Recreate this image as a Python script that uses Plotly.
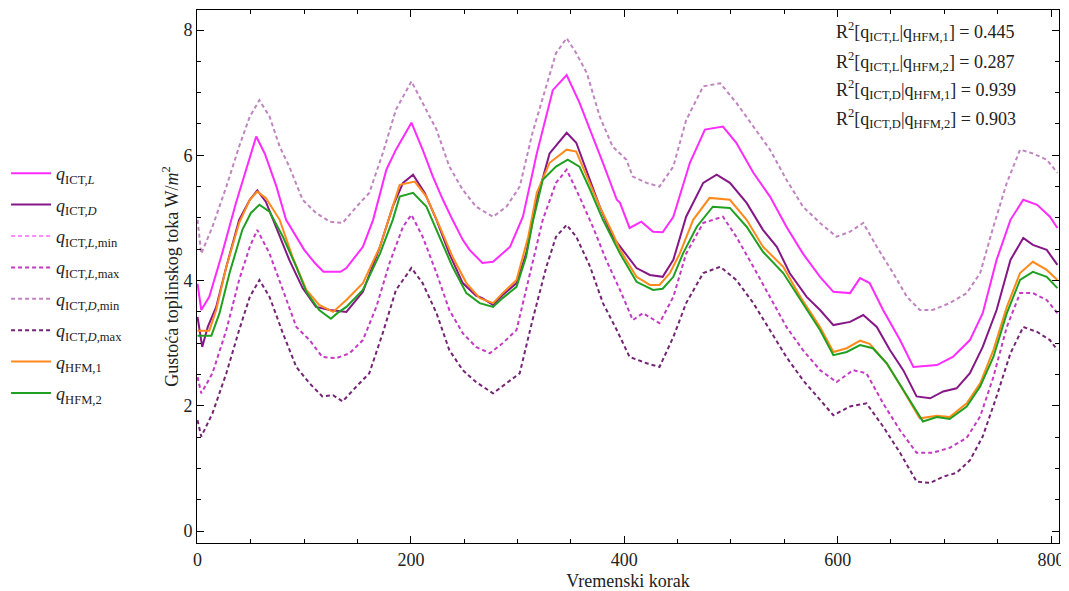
import plotly.graph_objects as go

# ---- data ----
ict_L_x = [0, 3.5, 11, 23, 36, 44, 55, 63, 74, 83, 93, 100, 110, 118, 134, 139.5, 155, 164.6, 177, 186,
           200.5, 211, 220.6, 230, 239, 248.6, 255, 261, 267, 277, 293, 305, 318, 333, 346, 358, 368, 380,
           393, 396, 405, 416, 427, 436, 446, 461.5, 475.6, 492.5, 505, 521, 536.6, 552, 567.5, 583.5, 596,
           611.6, 621, 630, 642.6, 658.5, 671, 693, 708, 724, 736, 749, 762, 774, 787, 799, 806]
ict_L_y = [3.95, 3.53, 3.74, 4.43, 5.24, 5.69, 6.30, 6.03, 5.50, 4.97, 4.70, 4.49, 4.28, 4.14, 4.14, 4.20,
           4.54, 4.97, 5.77, 6.09, 6.52, 6.09, 5.66, 5.29, 4.97, 4.65, 4.49, 4.38, 4.28, 4.30, 4.54, 5.02,
           6.03, 7.04, 7.28, 6.84, 6.41, 5.88, 5.29, 5.24, 4.84, 4.94, 4.78, 4.77, 5.02, 5.88, 6.41, 6.46,
           6.20, 5.72, 5.34, 4.86, 4.43, 4.06, 3.82, 3.80, 4.04, 3.96, 3.53, 3.05, 2.62, 2.65, 2.78, 3.05,
           3.48, 4.33, 4.97, 5.29, 5.21, 5.02, 4.84]

ict_D_x = [0, 4.4, 9.6, 17.5, 27, 39, 49, 56, 64, 75, 86, 98.5, 111, 124, 139.5, 155, 171, 183, 192.6, 202,
           213, 224, 236, 248.6, 261, 267, 277, 286, 299, 308, 318, 330, 346, 355, 365, 377, 389, 396, 411.5,
           424, 436, 446, 458, 474, 486.6, 499, 514.7, 530, 543, 555, 571, 583.5, 596, 611.6, 624, 636.7, 649,
           661.5, 674, 686.7, 699, 711.5, 724, 736, 749, 762, 774, 783, 796, 806]
ict_D_y = [3.42, 2.94, 3.26, 3.58, 4.22, 4.97, 5.29, 5.44, 5.26, 4.81, 4.33, 3.88, 3.58, 3.53, 3.50, 3.82,
           4.54, 5.18, 5.56, 5.69, 5.40, 4.97, 4.43, 3.96, 3.76, 3.72, 3.61, 3.77, 3.96, 4.43, 5.29, 6.03,
           6.36, 6.20, 5.72, 5.18, 4.70, 4.54, 4.20, 4.09, 4.06, 4.33, 5.02, 5.56, 5.69, 5.56, 5.24, 4.81,
           4.54, 4.12, 3.74, 3.53, 3.29, 3.34, 3.45, 3.26, 2.89, 2.57, 2.15, 2.12, 2.23, 2.28, 2.52, 2.94,
           3.53, 4.33, 4.68, 4.57, 4.49, 4.25]

upper_dash_x = [0, 3.5, 14, 27, 39, 49, 58, 67.5, 77, 86, 98.5, 111, 124, 136, 149, 161, 173.6, 186, 200.5,
                211, 224, 236, 248.6, 261, 277, 289.6, 302, 314, 327, 336, 346, 355, 365, 377, 389, 396, 402,
                408, 421, 433, 446, 458, 474, 490, 505, 521, 536.6, 552, 567.5, 583.5, 599, 611.6, 624, 636.7,
                652, 665, 677, 689, 705, 721, 733.6, 746, 758.6, 771, 783, 796, 806]
upper_dash_y = [4.97, 4.43, 4.86, 5.50, 6.14, 6.62, 6.88, 6.62, 6.14, 5.82, 5.29, 5.08, 4.94, 4.92, 5.18,
                5.40, 6.03, 6.73, 7.18, 6.84, 6.41, 5.82, 5.45, 5.18, 5.02, 5.18, 5.50, 6.36, 7.10, 7.63,
                7.87, 7.63, 7.31, 6.62, 6.14, 6.03, 5.93, 5.66, 5.56, 5.50, 5.82, 6.56, 7.10, 7.15, 6.84,
                6.46, 6.09, 5.61, 5.18, 4.92, 4.70, 4.78, 4.92, 4.54, 4.12, 3.74, 3.53, 3.53, 3.64, 3.80,
                4.12, 4.86, 5.56, 6.09, 6.03, 5.93, 5.72]

mid_dash_x = [0, 3.5, 14, 27, 39, 49, 56, 67.5, 80, 92.6, 105, 117, 130, 142.6, 155, 167.6, 180, 192.6, 200.5,
              211, 224, 236, 248.6, 261, 274, 286, 299, 311, 323.6, 336, 346, 358, 370.5, 383, 396, 408, 417.5,
              433, 446, 458, 474, 492.5, 505, 521, 536.6, 552, 567.5, 583.5, 599, 614.5, 627, 642.6, 658.5,
              674, 689, 705, 721, 733.6, 746, 758.6, 771, 783, 796, 806]
mid_dash_y = [2.46, 2.20, 2.52, 3.21, 4.01, 4.54, 4.81, 4.43, 3.85, 3.26, 3.05, 2.78, 2.76, 2.84, 3.05, 3.58,
              4.28, 4.86, 5.05, 4.70, 4.12, 3.53, 3.16, 2.94, 2.84, 3.00, 3.21, 4.06, 4.97, 5.56, 5.77, 5.34,
              4.86, 4.33, 3.85, 3.37, 3.48, 3.32, 3.74, 4.43, 4.92, 5.02, 4.70, 4.22, 3.74, 3.26, 2.89, 2.57,
              2.38, 2.57, 2.52, 2.04, 1.61, 1.25, 1.25, 1.33, 1.49, 1.83, 2.46, 3.26, 3.80, 3.80, 3.69, 3.48]

low_dash_x = [0, 3.5, 14, 27, 39, 49, 58, 67.5, 80, 92.6, 105, 117, 127, 136, 149, 161, 173.6, 186, 200.5, 211,
              224, 236, 248.6, 261, 277, 289.6, 302, 314, 327, 336, 346, 355, 368, 380, 393, 405, 413, 421, 433,
              446, 458, 474, 490, 505, 521, 536.6, 552, 567.5, 583.5, 596, 611.6, 627, 642.6, 658.5, 674, 686.7,
              699, 711.5, 724, 736, 749, 762, 774, 787, 799, 806]
low_dash_y = [1.77, 1.51, 1.88, 2.52, 3.21, 3.74, 4.01, 3.74, 3.16, 2.62, 2.36, 2.15, 2.17, 2.07, 2.31, 2.52,
              3.16, 3.85, 4.20, 3.96, 3.48, 2.89, 2.57, 2.38, 2.20, 2.36, 2.52, 3.37, 4.22, 4.70, 4.89, 4.70,
              4.22, 3.64, 3.21, 2.78, 2.73, 2.68, 2.62, 3.10, 3.64, 4.12, 4.22, 4.01, 3.64, 3.21, 2.78, 2.41,
              2.09, 1.85, 1.99, 2.04, 1.67, 1.25, 0.79, 0.77, 0.87, 0.93, 1.13, 1.51, 2.15, 2.84, 3.26, 3.18,
              3.05, 2.89]

hfm1_x = [0, 11, 17.5, 27, 39, 49, 56, 64, 77, 89, 102, 114, 127, 139.5, 155, 171, 183, 189.5, 203.6, 214.5,
          227, 239, 252, 264.5, 277, 286, 299, 310, 318, 330, 346, 355, 365, 377, 389, 396, 411.5, 424, 433,
          442.8, 452, 464.6, 480, 499, 514.7, 530, 549, 565, 583.5, 596, 608.5, 621, 630, 646, 661.5, 677, 693,
          705, 721, 733.6, 746, 758.6, 771, 783, 796, 806]
hfm1_y = [3.20, 3.20, 3.53, 4.22, 4.92, 5.29, 5.42, 5.32, 4.97, 4.38, 3.85, 3.61, 3.50, 3.69, 3.96, 4.54, 5.18,
          5.53, 5.58, 5.34, 4.86, 4.38, 3.96, 3.72, 3.64, 3.80, 4.01, 4.70, 5.40, 5.88, 6.09, 6.06, 5.66, 5.18,
          4.76, 4.49, 4.06, 3.93, 3.93, 4.12, 4.43, 4.97, 5.32, 5.29, 4.97, 4.54, 4.22, 3.74, 3.26, 2.86, 2.92,
          3.04, 2.99, 2.68, 2.25, 1.80, 1.84, 1.82, 2.04, 2.36, 2.89, 3.58, 4.12, 4.30, 4.17, 4.01]

hfm2_x = [0, 13, 20.6, 30, 42, 50, 58, 67.5, 80, 92.6, 102, 114, 125, 131, 139.5, 155, 171, 183, 189.5, 202,
          214.5, 227, 239, 252, 264.5, 277, 286, 299, 308, 314, 323.6, 336, 347, 358, 368, 380, 396, 411.5, 427,
          436, 446, 455, 468, 483, 499, 514.7, 530, 549, 565, 583.5, 596, 608.5, 621, 633, 646, 661.5, 680, 693,
          705, 721, 733.6, 746, 758.6, 771, 783, 796, 806]
hfm2_y = [3.12, 3.12, 3.48, 4.12, 4.81, 5.08, 5.21, 5.10, 4.70, 4.22, 3.82, 3.53, 3.39, 3.48, 3.58, 3.85, 4.43,
          4.97, 5.34, 5.40, 5.18, 4.70, 4.22, 3.80, 3.64, 3.58, 3.72, 3.90, 4.38, 4.92, 5.61, 5.82, 5.93, 5.82,
          5.45, 4.97, 4.43, 3.98, 3.85, 3.87, 4.06, 4.43, 4.86, 5.18, 5.16, 4.86, 4.46, 4.12, 3.69, 3.21, 2.81,
          2.86, 2.97, 2.92, 2.68, 2.25, 1.75, 1.82, 1.79, 1.99, 2.31, 2.78, 3.48, 4.01, 4.14, 4.06, 3.88]

r2_labels = ["R<sup>2</sup>[q<sub>ICT,L</sub>|q<sub>HFM,1</sub>] = 0.445",
             "R<sup>2</sup>[q<sub>ICT,L</sub>|q<sub>HFM,2</sub>] = 0.287",
             "R<sup>2</sup>[q<sub>ICT,D</sub>|q<sub>HFM,1</sub>] = 0.939",
             "R<sup>2</sup>[q<sub>ICT,D</sub>|q<sub>HFM,2</sub>] = 0.903"]

FONT = "Liberation Serif, Times New Roman, serif"
C_L = "#ff2bff"
C_D = "#861786"
C_Lmin = "#ff8cff"
C_Lmax = "#c43ac4"
C_Dmin = "#c084c0"
C_Dmax = "#742474"
C_H1 = "#ff8a1c"
C_H2 = "#20a020"
DASH = "4px,3px"

fig = go.Figure()

def add(xs, ys, name, color, dash=None, grp=""):
    fig.add_trace(go.Scatter(x=xs, y=ys, mode="lines", name=name, legendgroup=grp,
                             line=dict(color=color, width=2, dash=dash)))

add(ict_L_x, ict_L_y, "<i>q</i><sub>ICT,<i>L</i></sub>", C_L, grp="g1")
add(ict_D_x, ict_D_y, "<i>q</i><sub>ICT,<i>D</i></sub>", C_D, grp="g2")
add([None], [None], "<i>q</i><sub>ICT,<i>L</i>,min</sub>", C_Lmin, DASH, grp="g3")
add(mid_dash_x, mid_dash_y, "<i>q</i><sub>ICT,<i>L</i>,max</sub>", C_Lmax, DASH, grp="g4")
add(upper_dash_x, upper_dash_y, "<i>q</i><sub>ICT,<i>D</i>,min</sub>", C_Dmin, DASH, grp="g5")
add(low_dash_x, low_dash_y, "<i>q</i><sub>ICT,<i>D</i>,max</sub>", C_Dmax, DASH, grp="g6")
add(hfm1_x, hfm1_y, "<i>q</i><sub>HFM,1</sub>", C_H1, grp="g7")
add(hfm2_x, hfm2_y, "<i>q</i><sub>HFM,2</sub>", C_H2, grp="g8")

ann_y = [0.959, 0.904, 0.851, 0.797]
for txt, yy in zip(r2_labels, ann_y):
    fig.add_annotation(text=txt, xref="paper", yref="paper", x=0.739, y=yy, xanchor="left", yanchor="middle",
                       showarrow=False, font=dict(family=FONT, size=18, color="#222"))

axis_common = dict(showline=True, linecolor="black", linewidth=1, mirror="allticks", ticks="inside",
                   ticklen=7, tickcolor="black", showgrid=False, zeroline=False, automargin=False,
                   tickfont=dict(family=FONT, size=18, color="#222"))

fig.update_xaxes(range=[-0.5, 807.5], tickvals=[0, 200, 400, 600, 800],
                 minor=dict(ticks="inside", ticklen=4, dtick=50, tick0=0, tickcolor="black"),
                 title=dict(text="Vremenski korak", font=dict(family=FONT, size=18, color="#222"), standoff=12),
                 **axis_common)
fig.update_yaxes(range=[-0.19, 8.32], tickvals=[0, 2, 4, 6, 8],
                 minor=dict(ticks="inside", ticklen=4, dtick=0.5, tick0=0, tickcolor="black"),
                 title=dict(text="Gustoća toplinskog toka W/<i>m</i><sup>2</sup>",
                            font=dict(family=FONT, size=18, color="#222"), standoff=0),
                 **axis_common)

# the page places the figure 8px from its top-left corner, so the figure is sized to the visible area
fig.update_layout(
    width=1061, height=583,
    margin=dict(l=189, r=10, t=2, b=48, autoexpand=False),
    paper_bgcolor="white", plot_bgcolor="white",
    showlegend=True,
    legend=dict(x=-0.2215, xanchor="left", y=0.728, yanchor="top", bgcolor="rgba(0,0,0,0)",
                font=dict(family=FONT, size=18, color="#222"), itemwidth=40, tracegroupgap=5),
    font=dict(family=FONT),
)

fig.write_html("out.html")
